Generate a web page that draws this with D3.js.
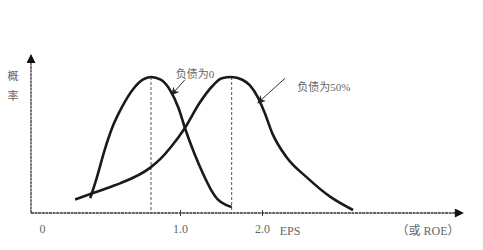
<!DOCTYPE html>
<html>
<head>
<meta charset="utf-8">
<script src="https://cdn.jsdelivr.net/npm/d3@7"></script>
<style>
  body { margin: 0; background: #fff; }
  text { font-family: "Liberation Serif", "Noto Sans CJK SC", serif; fill: #666; }
</style>
</head>
<body>
<script>
// EPS on x, probability on y (schematic figure)
const debt0 = [
  [0.35, 0.11], [0.40, 0.27], [0.45, 0.45], [0.51, 0.63], [0.58, 0.78],
  [0.66, 0.91], [0.73, 0.98], [0.79, 1.0], [0.86, 0.98], [0.93, 0.90],
  [0.99, 0.77], [1.06, 0.625], [1.18, 0.43], [1.28, 0.29], [1.37, 0.18],
  [1.46, 0.10], [1.56, 0.06], [1.63, 0.044]
];
const debt50 = [
  [0.24, 0.10], [0.38, 0.15], [0.49, 0.19], [0.57, 0.22], [0.78, 0.33],
  [0.86, 0.40], [0.93, 0.48], [1.06, 0.625], [1.24, 0.81], [1.39, 0.93],
  [1.51, 0.99], [1.63, 1.0], [1.76, 0.98], [1.85, 0.94], [1.95, 0.85],
  [2.03, 0.74], [2.13, 0.58], [2.30, 0.41], [2.55, 0.26], [2.83, 0.12],
  [3.11, 0.022]
];
const peaks = [0.79, 1.63];
const tickValues = [0, 1, 2];
const tickLabels = ['0', '1.0', '2.0'];
const labels = [
  {text: '负债为0', tail: [1.06, 0.98], head: [0.94, 0.87], tx: 0.97, ty: 0.995},
  {text: '负债为50%', tail: [2.28, 0.99], head: [1.95, 0.81], tx: 2.43, ty: 0.9}
];

const width = 483, height = 250;
const margin = {top: 55, right: 20, bottom: 37, left: 31};

const svg = d3.select('body').append('svg')
  .attr('width', width)
  .attr('height', height);

// axis drawn as a schematic, so 0 sits a bit off the origin
const x = d3.scaleLinear()
  .domain([0, 1, 2])
  .range([42, 180, 262]);
const y = d3.scaleLinear()
  .domain([0, 1])
  .range([213, 77]);

const defs = svg.append('defs');
defs.append('marker')
  .attr('id', 'big')
  .attr('viewBox', '0 0 10 10')
  .attr('refX', 9).attr('refY', 5)
  .attr('markerWidth', 11).attr('markerHeight', 9)
  .attr('markerUnits', 'userSpaceOnUse')
  .attr('orient', 'auto')
  .append('path').attr('d', 'M0,0L10,5L0,10Z').attr('fill', '#111');
defs.append('marker')
  .attr('id', 'small')
  .attr('viewBox', '0 0 10 10')
  .attr('refX', 9).attr('refY', 5)
  .attr('markerWidth', 9).attr('markerHeight', 8)
  .attr('markerUnits', 'userSpaceOnUse')
  .attr('orient', 'auto')
  .append('path').attr('d', 'M0,0L10,5L0,10L3,5Z').attr('fill', '#222');

// axes lines with arrows
const y0 = y(0);
svg.append('line')
  .attr('x1', margin.left).attr('y1', y0)
  .attr('x2', width - margin.right).attr('y2', y0)
  .attr('stroke', '#333').attr('stroke-width', 1.3)
  .attr('stroke-dasharray', '3,0.6')
  .attr('marker-end', 'url(#big)');
svg.append('line')
  .attr('x1', margin.left).attr('y1', y0)
  .attr('x2', margin.left).attr('y2', margin.top)
  .attr('stroke', '#333').attr('stroke-width', 1.3)
  .attr('stroke-dasharray', '3,0.6')
  .attr('marker-end', 'url(#big)');

// x axis ticks
const xAxis = d3.axisBottom(x)
  .tickValues(tickValues)
  .tickFormat((d, i) => tickLabels[i])
  .tickSize(0);
const gx = svg.append('g')
  .attr('transform', `translate(0,${y0})`)
  .call(xAxis);
gx.select('.domain').remove();
gx.selectAll('.tick line')
  .attr('y1', -3).attr('y2', 3)
  .attr('stroke', '#333')
  .attr('opacity', d => d === 0 ? 0 : 1);
gx.selectAll('.tick text')
  .attr('y', 11)
  .attr('font-size', 12)
  .style('font-family', '"Liberation Serif", serif')
  .attr('fill', '#666');

svg.append('text')
  .attr('x', x(2) + 28).attr('y', y0 + 22)
  .attr('text-anchor', 'middle')
  .attr('font-size', 12)
  .text('EPS');
svg.append('text')
  .attr('x', 428).attr('y', y0 + 22)
  .attr('text-anchor', 'middle')
  .attr('font-size', 12)
  .text('（或 ROE）');

// y axis label, vertical
svg.append('text')
  .attr('x', 13).attr('y', 80)
  .attr('text-anchor', 'middle')
  .attr('font-size', 11)
  .text('概');
svg.append('text')
  .attr('x', 13).attr('y', 100)
  .attr('text-anchor', 'middle')
  .attr('font-size', 11)
  .text('率');

// dashed lines at the peaks
svg.selectAll('.peak')
  .data(peaks)
  .join('line')
  .attr('class', 'peak')
  .attr('x1', d => x(d)).attr('x2', d => x(d))
  .attr('y1', y(1)).attr('y2', y(0))
  .attr('stroke', '#555').attr('stroke-width', 1)
  .attr('stroke-dasharray', '3,2');

// the two curves
const line = d3.line()
  .x(d => x(d[0]))
  .y(d => y(d[1]))
  .curve(d3.curveMonotoneX);

svg.selectAll('.curve')
  .data([debt0, debt50])
  .join('path')
  .attr('class', 'curve')
  .attr('d', line)
  .attr('fill', 'none')
  .attr('stroke', '#1a1a1a')
  .attr('stroke-width', 2.6);

// pointers and labels
svg.selectAll('.pointer')
  .data(labels)
  .join('line')
  .attr('class', 'pointer')
  .attr('x1', d => x(d.tail[0])).attr('y1', d => y(d.tail[1]))
  .attr('x2', d => x(d.head[0])).attr('y2', d => y(d.head[1]))
  .attr('stroke', '#333').attr('stroke-width', 1)
  .attr('marker-end', 'url(#small)');

svg.selectAll('.lab')
  .data(labels)
  .join('text')
  .attr('class', 'lab')
  .attr('x', d => x(d.tx)).attr('y', d => y(d.ty))
  .attr('font-size', 11)
  .text(d => d.text);
</script>
</body>
</html>
